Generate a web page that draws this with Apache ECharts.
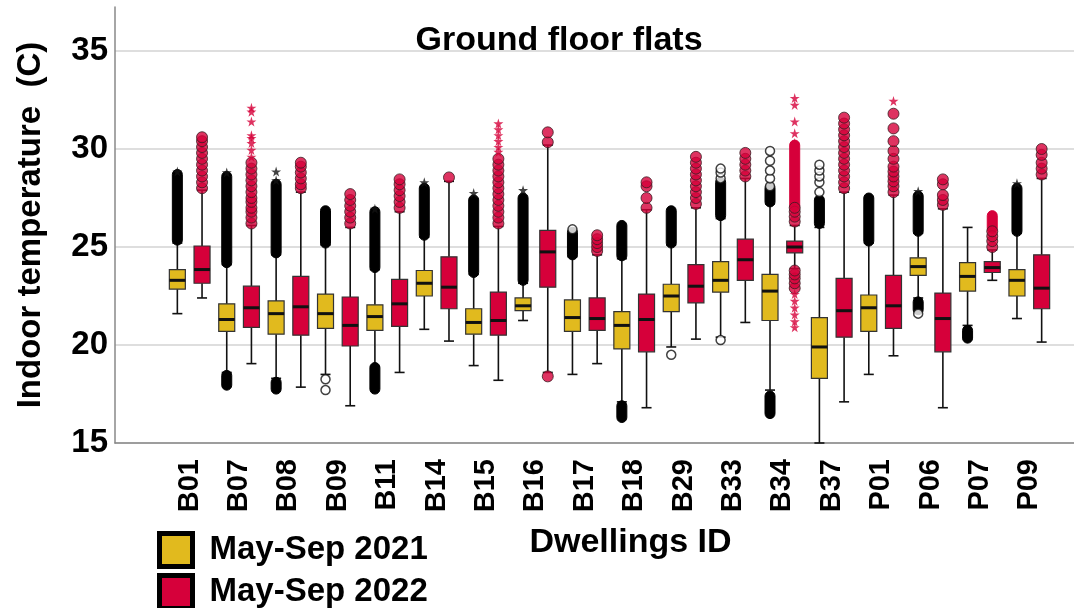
<!DOCTYPE html>
<html>
<head>
<meta charset="utf-8">
<title>Ground floor flats</title>
<script src="https://cdn.jsdelivr.net/npm/echarts@6.0.0/dist/echarts.min.js"></script>
<style>
html, body { margin: 0; padding: 0; background: #fff; }
#main { width: 1074px; height: 608px; }
</style>
</head>
<body>
<div id="main"></div>
<script>
// dwellings on the x axis
var categories = ['B01', 'B07', 'B08', 'B09', 'B11', 'B14', 'B15', 'B16', 'B17', 'B18',
    'B29', 'B33', 'B34', 'B37', 'P01', 'P06', 'P07', 'P09'];

// [low whisker, Q1, median, Q3, high whisker]
var box2021 = [
    [21.6, 22.85, 23.3, 23.85, 25.2],
    [18.6, 20.7, 21.3, 22.1, 24.1],
    [18.3, 20.55, 21.6, 22.25, 24.6],
    [18.5, 20.85, 21.6, 22.6, 25.1],
    [18.9, 20.75, 21.45, 22.05, 23.85],
    [20.8, 22.5, 23.15, 23.8, 25.5],
    [18.95, 20.55, 21.15, 21.85, 23.6],
    [21.25, 21.75, 22.0, 22.4, 23.15],
    [18.5, 20.7, 21.4, 22.3, 24.5],
    [17.1, 19.8, 21.0, 21.7, 24.4],
    [19.9, 21.7, 22.5, 23.1, 25.1],
    [20.4, 22.7, 23.3, 24.25, 26.45],
    [17.7, 21.25, 22.75, 23.6, 27.2],
    [15.0, 18.3, 19.9, 21.4, 26.0],
    [18.5, 20.7, 21.9, 22.55, 25.2],
    [22.4, 23.55, 24.0, 24.45, 25.7],
    [21.0, 22.75, 23.5, 24.2, 26.0],
    [21.35, 22.5, 23.3, 23.85, 25.7]
];
var box2022 = [
    [22.4, 23.15, 23.85, 25.05, 27.9],
    [19.05, 20.9, 21.9, 23.0, 26.1],
    [17.85, 20.5, 21.95, 23.5, 27.8],
    [16.9, 19.95, 21.0, 22.45, 26.0],
    [18.6, 20.95, 22.1, 23.35, 26.8],
    [20.2, 21.85, 22.95, 24.5, 28.35],
    [18.2, 20.5, 21.25, 22.7, 26.05],
    [18.6, 22.95, 24.75, 25.85, 30.2],
    [19.05, 20.75, 21.35, 22.4, 24.6],
    [16.8, 19.65, 21.3, 22.6, 26.9],
    [20.3, 22.15, 23.0, 24.1, 27.0],
    [21.15, 23.3, 24.35, 25.4, 28.5],
    [23.9, 24.7, 25.0, 25.3, 26.1],
    [17.1, 20.4, 21.75, 23.4, 27.8],
    [19.45, 20.85, 22.0, 23.55, 27.65],
    [16.8, 19.65, 21.35, 22.65, 26.95],
    [23.3, 23.7, 23.95, 24.25, 24.85],
    [20.15, 21.85, 22.9, 24.6, 28.5]
];

// 2021 outliers packed so tightly they read as solid black columns: [dwelling, from, to]
var dense2021 = [
    ['B01', 25.35, 28.7], ['B07', 24.2, 28.6], ['B07', 17.95, 18.45],
    ['B08', 24.7, 28.2], ['B08', 17.75, 18.1], ['B09', 25.2, 26.85],
    ['B11', 23.95, 26.8], ['B11', 17.75, 18.85], ['B14', 25.6, 28.0],
    ['B15', 23.7, 27.4], ['B16', 23.3, 27.5], ['B17', 24.6, 25.75],
    ['B18', 24.55, 26.1], ['B18', 16.3, 16.9], ['B29', 25.2, 26.85],
    ['B33', 26.6, 28.3], ['B34', 27.3, 28.0], ['B34', 16.5, 17.4],
    ['B37', 26.2, 27.4], ['P01', 25.3, 27.5], ['P06', 25.8, 27.6],
    ['P06', 21.8, 22.2], ['P07', 20.35, 20.75], ['P09', 25.8, 28.0]
];
// single 2021 outliers (open circles)
var hollow2021 = [
    ['B09', 18.25], ['B09', 17.7], ['B17', 25.9], ['B29', 19.5],
    ['B33', 28.5], ['B33', 28.8], ['B33', 29.0], ['B33', 20.25],
    ['B34', 28.1], ['B34', 28.5], ['B34', 28.9], ['B34', 29.4], ['B34', 29.9],
    ['B37', 27.8], ['B37', 28.3], ['B37', 28.6], ['B37', 28.9], ['B37', 29.2],
    ['P06', 21.6]
];
// 2021 extremes (stars)
var stars2021 = [
    ['B01', 28.85], ['B07', 28.8], ['B08', 28.4], ['B08', 28.85], ['B11', 26.95],
    ['B14', 28.3], ['B15', 27.75], ['B16', 27.9], ['P06', 27.85], ['P09', 28.25]
];
// 2022 outliers (filled circles)
var circles2022 = [
    ['B01', 28.0], ['B01', 28.3], ['B01', 28.6], ['B01', 28.9], ['B01', 29.2],
    ['B01', 29.5], ['B01', 29.8], ['B01', 30.1], ['B01', 30.4], ['B01', 30.6],
    ['B07', 26.2], ['B07', 26.5], ['B07', 26.8], ['B07', 27.0], ['B07', 27.3], ['B07', 27.5],
    ['B07', 27.8], ['B07', 28.1], ['B07', 28.4], ['B07', 28.7], ['B07', 29.0], ['B07', 29.3],
    ['B08', 28.0], ['B08', 28.2], ['B08', 28.5], ['B08', 28.8], ['B08', 29.1], ['B08', 29.3],
    ['B09', 26.2], ['B09', 26.5], ['B09', 26.8], ['B09', 27.1], ['B09', 27.4], ['B09', 27.7],
    ['B11', 27.0], ['B11', 27.3], ['B11', 27.6], ['B11', 27.9], ['B11', 28.2], ['B11', 28.45],
    ['B14', 28.55],
    ['B15', 26.2], ['B15', 26.5], ['B15', 26.8], ['B15', 27.1], ['B15', 27.4], ['B15', 27.7],
    ['B15', 28.0], ['B15', 28.3], ['B15', 28.6], ['B15', 28.9], ['B15', 29.2], ['B15', 29.5],
    ['B16', 18.4], ['B16', 30.35], ['B16', 30.85],
    ['B17', 24.8], ['B17', 25.0], ['B17', 25.2], ['B17', 25.4], ['B17', 25.6],
    ['B18', 27.0], ['B18', 27.5], ['B18', 28.1], ['B18', 28.3],
    ['B29', 27.2], ['B29', 27.5], ['B29', 27.8], ['B29', 28.1], ['B29', 28.4],
    ['B29', 28.7], ['B29', 29.0], ['B29', 29.3], ['B29', 29.6],
    ['B33', 28.6], ['B33', 28.9], ['B33', 29.2], ['B33', 29.5], ['B33', 29.8],
    ['B34', 26.3], ['B34', 26.55], ['B34', 26.8], ['B34', 27.0],
    ['B34', 22.9], ['B34', 23.15], ['B34', 23.4], ['B34', 23.6], ['B34', 23.8],
    ['B37', 28.0], ['B37', 28.3], ['B37', 28.6], ['B37', 28.9], ['B37', 29.2], ['B37', 29.5],
    ['B37', 29.8], ['B37', 30.1], ['B37', 30.4], ['B37', 30.7], ['B37', 31.0], ['B37', 31.3], ['B37', 31.6],
    ['P01', 27.8], ['P01', 28.1], ['P01', 28.35], ['P01', 28.6], ['P01', 28.85], ['P01', 29.1],
    ['P01', 29.5], ['P01', 29.9], ['P01', 30.4], ['P01', 31.05], ['P01', 31.8],
    ['P06', 27.15], ['P06', 27.4], ['P06', 27.65], ['P06', 28.2], ['P06', 28.45],
    ['P07', 25.0], ['P07', 25.3], ['P07', 25.55], ['P07', 25.8],
    ['P09', 28.7], ['P09', 29.0], ['P09', 29.3], ['P09', 29.7], ['P09', 30.0]
];
// 2022 extremes (stars)
var stars2022 = [
    ['B07', 29.6], ['B07', 29.95], ['B07', 30.3], ['B07', 30.55], ['B07', 30.7],
    ['B07', 31.4], ['B07', 31.9], ['B07', 32.1],
    ['B15', 29.85], ['B15', 30.1], ['B15', 30.4], ['B15', 30.7], ['B15', 31.0], ['B15', 31.3],
    ['B34', 30.3], ['B34', 30.8], ['B34', 31.4], ['B34', 32.25], ['B34', 32.6],
    ['B34', 22.6], ['B34', 22.25], ['B34', 21.9], ['B34', 21.55], ['B34', 21.2], ['B34', 20.9],
    ['P01', 32.45]
];
// 2022 extremes packed into solid red columns: [dwelling, from, to]
var denseStars2022 = [
    ['B34', 27.1, 30.2], ['P07', 25.95, 26.6]
];

var YELLOW = '#E1BA1E';
var RED = '#D6003A';
var FONT = '"Liberation Sans", Arial, sans-serif';
var STAR = 'path://M50,0 L61,35 L98,35 L68,57 L79,91 L50,70 L21,91 L32,57 L2,35 L39,35 Z';
var boxGridWidth = 889;
var half = boxGridWidth / categories.length / 4;

function idx(name) { return categories.indexOf(name); }
function withIndex(rows) {
    return rows.map(function (r) { return [idx(r[0])].concat(r.slice(1)); });
}

function sideX(api, i, side) {
    var w = api.size([1, 0])[0];
    return api.coord([i, 20])[0] + side * w / 4;
}

function boxItem(side, fill) {
    return function (params, api) {
        var i = api.value(0);
        var x = sideX(api, i, side);
        var y = [1, 2, 3, 4, 5].map(function (d) { return api.coord([i, api.value(d)])[1]; });
        var bw = 16, cap = 5;
        function line(x1, y1, x2, y2, lw) {
            return { type: 'line', shape: { x1: x1, y1: y1, x2: x2, y2: y2 }, style: { stroke: '#111', lineWidth: lw } };
        }
        return {
            type: 'group',
            children: [
                line(x, y[0], x, y[1], 1.6),
                line(x, y[3], x, y[4], 1.6),
                line(x - cap, y[0], x + cap, y[0], 1.6),
                line(x - cap, y[4], x + cap, y[4], 1.6),
                { type: 'rect', shape: { x: x - bw / 2, y: y[3], width: bw, height: y[1] - y[3] },
                  style: { fill: fill, stroke: '#333', lineWidth: 1.2 } },
                line(x - bw / 2, y[2], x + bw / 2, y[2], 3)
            ]
        };
    };
}

function bandItem(side, fill, stroke) {
    return function (params, api) {
        var i = api.value(0);
        var x = sideX(api, i, side);
        var yTop = api.coord([i, api.value(2)])[1];
        var yBot = api.coord([i, api.value(1)])[1];
        var r = 5;
        return {
            type: 'rect',
            shape: { x: x - r, y: yTop - r, width: 2 * r, height: yBot - yTop + 2 * r, r: r },
            style: { fill: fill, stroke: stroke, lineWidth: 1 }
        };
    };
}

var chart = echarts.init(document.getElementById('main'));

chart.setOption({
    animation: false,
    textStyle: { fontFamily: FONT },
    title: {
        text: 'Ground floor flats',
        left: 554, top: 19, textAlign: 'center',
        textStyle: { fontSize: 34, fontWeight: 'bold', color: '#000', fontFamily: FONT }
    },
    legend: {
        orient: 'vertical', left: 157, top: 531, height: 90, padding: 0,
        itemWidth: 33, itemHeight: 33, itemGap: 4,
        textStyle: { fontSize: 33, lineHeight: 33, fontWeight: 'bold', color: '#000', fontFamily: FONT,
                     padding: [0, 0, 0, 12] },
        data: [
            { name: 'May-Sep 2021', icon: 'rect', itemStyle: { color: YELLOW, borderColor: '#000', borderWidth: 5 } },
            { name: 'May-Sep 2022', icon: 'rect', itemStyle: { color: RED, borderColor: '#000', borderWidth: 5 } }
        ]
    },
    grid: [
        { left: 115, right: 0, top: 51, bottom: 165 },
        { left: 115, right: 0, top: 7, bottom: 165 },
        { left: 165, width: boxGridWidth, top: 51, bottom: 165 }
    ],
    xAxis: [
        { gridIndex: 0, type: 'value', min: 0, max: 1,
          axisLine: { show: true, onZero: false, lineStyle: { color: '#888', width: 1.5 } },
          axisTick: { show: false }, axisLabel: { show: false }, splitLine: { show: false } },
        { gridIndex: 1, type: 'value', min: 0, max: 1, show: false },
        { gridIndex: 2, type: 'category', data: categories,
          axisLine: { show: false }, axisTick: { show: false },
          axisLabel: { rotate: 90, fontSize: 29, fontWeight: 'bold', color: '#000', margin: 16, fontFamily: FONT },
          name: 'Dwellings ID', nameLocation: 'middle', nameGap: 83,
          nameTextStyle: { fontSize: 34, fontWeight: 'bold', color: '#000', fontFamily: FONT, padding: [0, 0, 0, 42] } }
    ],
    yAxis: [
        { gridIndex: 0, type: 'value', min: 15, max: 35, interval: 5,
          axisLine: { show: false }, axisTick: { show: false },
          axisLabel: { fontSize: 33, fontWeight: 'bold', color: '#000', margin: 7, fontFamily: FONT },
          splitLine: { lineStyle: { color: '#d3d3d3', width: 1.5 } } },
        { gridIndex: 1, type: 'value', min: 0, max: 1,
          axisLine: { show: true, onZero: false, lineStyle: { color: '#888', width: 1.5 } },
          axisTick: { show: false }, axisLabel: { show: false }, splitLine: { show: false },
          name: 'Indoor temperature  (C)', nameLocation: 'middle', nameGap: 68,
          nameTextStyle: { fontSize: 33, fontWeight: 'bold', color: '#000', fontFamily: FONT } },
        { gridIndex: 2, type: 'value', min: 15, max: 35, show: false }
    ],
    series: [
        { name: 'May-Sep 2021', type: 'custom', xAxisIndex: 2, yAxisIndex: 2,
          renderItem: boxItem(-1, YELLOW), itemStyle: { color: YELLOW },
          encode: { x: 0, y: [1, 2, 3, 4, 5] },
          data: box2021.map(function (b, i) { return [i].concat(b); }) },
        { name: 'May-Sep 2022', type: 'custom', xAxisIndex: 2, yAxisIndex: 2,
          renderItem: boxItem(1, RED), itemStyle: { color: RED },
          encode: { x: 0, y: [1, 2, 3, 4, 5] },
          data: box2022.map(function (b, i) { return [i].concat(b); }) },
        { name: 'dense 2021', type: 'custom', xAxisIndex: 2, yAxisIndex: 2,
          renderItem: bandItem(-1, '#000', '#000'),
          encode: { x: 0, y: [1, 2] }, data: withIndex(dense2021) },
        { name: 'dense stars 2022', type: 'custom', xAxisIndex: 2, yAxisIndex: 2,
          renderItem: bandItem(1, RED, RED),
          encode: { x: 0, y: [1, 2] }, data: withIndex(denseStars2022) },
        { name: 'hollow 2021', type: 'scatter', xAxisIndex: 2, yAxisIndex: 2,
          symbol: 'circle', symbolSize: 9, symbolOffset: [-half, 0],
          itemStyle: { color: '#fff', borderColor: '#111', borderWidth: 1.5 },
          data: withIndex(hollow2021) },
        { name: 'stars 2021', type: 'scatter', xAxisIndex: 2, yAxisIndex: 2,
          symbol: STAR, symbolSize: 10, symbolOffset: [-half, 0],
          itemStyle: { color: '#111' }, data: withIndex(stars2021) },
        { name: 'circles 2022', type: 'scatter', xAxisIndex: 2, yAxisIndex: 2,
          symbol: 'circle', symbolSize: 11, symbolOffset: [half, 0],
          itemStyle: { color: RED, borderColor: '#3a1a20', borderWidth: 1 },
          data: withIndex(circles2022) },
        { name: 'stars 2022', type: 'scatter', xAxisIndex: 2, yAxisIndex: 2,
          symbol: STAR, symbolSize: 10, symbolOffset: [half, 0],
          itemStyle: { color: RED }, data: withIndex(stars2022) }
    ]
});
</script>
</body>
</html>
